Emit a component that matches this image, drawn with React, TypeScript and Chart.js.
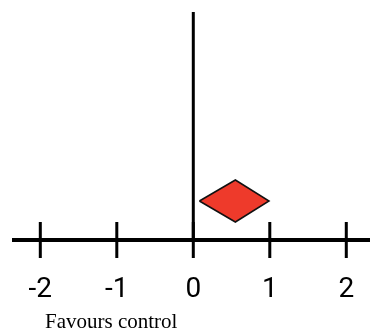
import React, { useEffect, useRef } from "react";
import { Chart, registerables } from "chart.js";

Chart.register(...registerables);

const tickValues = [-2, -1, 0, 1, 2];
const xMin = -2.37;
const xMax = 2.31;
const effectLower = 0.08;
const effectPoint = 0.55;
const effectUpper = 0.99;
const diamondHalfHeight = 21;
const diamondCenterY = 39;
const refLineTop = 228;
const tickHalf = 18;
const leftLabel = "Favours control";

export default function App() {
  const ref = useRef<HTMLCanvasElement>(null);
  useEffect(() => {
    const tickSegs: any[] = [];
    tickValues.forEach((v) => {
      tickSegs.push({ x: v, y: -tickHalf }, { x: v, y: tickHalf }, { x: v, y: null });
    });
    const chart = new Chart(ref.current!, {
      type: "scatter",
      data: {
        datasets: [
          {
            data: [
              { x: xMin, y: 0 },
              { x: xMax, y: 0 },
            ],
            showLine: true,
            borderColor: "#000",
            borderWidth: 4,
            pointRadius: 0,
            clip: false as any,
          },
          {
            data: [
              { x: 0, y: 0 },
              { x: 0, y: refLineTop },
            ],
            showLine: true,
            borderColor: "#000",
            borderWidth: 3,
            pointRadius: 0,
            clip: false as any,
          },
          {
            data: tickSegs,
            showLine: true,
            spanGaps: false,
            borderColor: "#000",
            borderWidth: 3,
            pointRadius: 0,
            clip: false as any,
          },
          {
            data: [
              { x: effectLower, y: diamondCenterY },
              { x: effectPoint, y: diamondCenterY + diamondHalfHeight },
              { x: effectUpper, y: diamondCenterY },
              { x: effectPoint, y: diamondCenterY - diamondHalfHeight },
              { x: effectLower, y: diamondCenterY },
            ],
            showLine: true,
            fill: "shape" as any,
            backgroundColor: "#ee3a2b",
            borderColor: "#111",
            borderWidth: 1.5,
            pointRadius: 0,
            clip: false as any,
          },
        ],
      },
      options: {
        responsive: false,
        animation: false,
        layout: { padding: { top: 12, left: 12, right: 0, bottom: 17 } },
        plugins: { legend: { display: false }, tooltip: { enabled: false } },
        scales: {
          x: {
            type: "linear",
            min: xMin,
            max: xMax,
            afterBuildTicks: (axis: any) => {
              axis.ticks = tickValues.map((v) => ({ value: v }));
            },
            afterFit: (axis: any) => {
              axis.height = 50;
            },
            grid: { display: false, drawTicks: false },
            border: { display: false },
            ticks: {
              padding: 11,
              color: "#000",
              font: { family: "Roboto", size: 28 },
              maxRotation: 0,
              autoSkip: false,
            },
          },
          y: {
            type: "linear",
            display: false,
            min: -22,
            max: 228,
          },
        },
      },
    });
    return () => chart.destroy();
  }, []);
  return (
    <div style={{ position: "absolute", left: 0, top: 0, width: 370, height: 329, background: "#fff" }}>
      <canvas ref={ref} width={370} height={329} style={{ position: "absolute", left: 0, top: 0 }} />
      <div
        style={{
          position: "absolute",
          left: 45,
          top: 309,
          fontFamily: "'Liberation Serif', serif",
          fontSize: 21,
          lineHeight: "normal",
          color: "#000",
          whiteSpace: "nowrap",
        }}
      >
        {leftLabel}
      </div>
    </div>
  );
}
